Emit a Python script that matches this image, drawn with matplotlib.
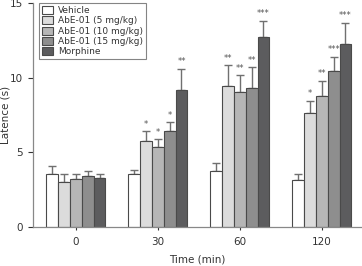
import matplotlib
matplotlib.use("Agg")
import matplotlib.pyplot as plt
import numpy as np

times = ["0", "30", "60", "120"]
groups = ["Vehicle", "AbE-01 (5 mg/kg)", "AbE-01 (10 mg/kg)", "AbE-01 (15 mg/kg)", "Morphine"]
means = [
    [3.53, 3.53, 3.77, 3.15],
    [3.03, 5.78, 9.44, 7.66],
    [3.23, 5.38, 9.04, 8.77],
    [3.39, 6.41, 9.29, 10.45],
    [3.30, 9.18, 12.73, 12.24],
]
errs = [
    [0.57, 0.29, 0.50, 0.38],
    [0.50, 0.65, 1.39, 0.80],
    [0.30, 0.49, 1.12, 1.03],
    [0.35, 0.62, 1.41, 0.95],
    [0.23, 1.42, 1.09, 1.44],
]
stars = [
    ["", "", "", ""],
    ["", "*", "**", "*"],
    ["", "*", "**", "**"],
    ["", "*", "**", "***"],
    ["", "**", "***", "***"],
]
colors = ["#ffffff", "#dcdcdc", "#b6b6b6", "#8e8e8e", "#5c5c5e"]

fig = plt.figure(figsize=(3.62, 2.66), dpi=100)
ax = fig.add_axes([0.091, 0.147, 0.909, 0.842])

x = np.arange(len(times))
w = 0.144
for i in range(len(groups)):
    pos = x + (i - 2) * w
    ax.bar(pos, means[i], w, color=colors[i], edgecolor="#4a4a4a", linewidth=0.8,
           label=groups[i], zorder=2)
    ax.errorbar(pos, means[i], yerr=[np.zeros(len(times)), errs[i]], fmt="none",
                ecolor="#707070", elinewidth=1.0, capsize=3, capthick=1.0, zorder=1)
    for j in range(len(times)):
        if stars[i][j]:
            ax.text(pos[j], means[i][j] + errs[i][j] + 0.15, stars[i][j], ha="center",
                    va="bottom", fontsize=6, color="#555555")

ax.set_xlim(-0.524, 3.49)
ax.set_ylim(0, 15)
ax.set_yticks([0, 5, 10, 15])
ax.set_xticks(x)
ax.set_xticklabels(times)
ax.tick_params(labelsize=7.5, colors="#333333", length=3.5, width=0.8)
ax.tick_params(axis="x", length=2, pad=5)
for s in ["top", "right"]:
    ax.spines[s].set_visible(False)
for s in ["left", "bottom"]:
    ax.spines[s].set_color("#888888")
    ax.spines[s].set_linewidth(0.9)

ax.set_ylabel("Latence (s)", fontsize=7.5, color="#333333")
ax.set_xlabel("Time (min)", fontsize=7.5, color="#333333")
ax.yaxis.set_label_coords(-0.068, 0.5)
ax.xaxis.set_label_coords(0.5, -0.125)

leg = ax.legend(loc="upper left", bbox_to_anchor=(0.018, 1.0), fontsize=6.5, frameon=True,
                fancybox=False, edgecolor="#666666", handlelength=1.2, handleheight=1.0,
                handletextpad=0.6, labelspacing=0.12, borderpad=0.35, borderaxespad=0.0)
leg.get_frame().set_linewidth(0.8)
for t in leg.get_texts():
    t.set_color("#333333")

fig.savefig("out.png", dpi=100)
